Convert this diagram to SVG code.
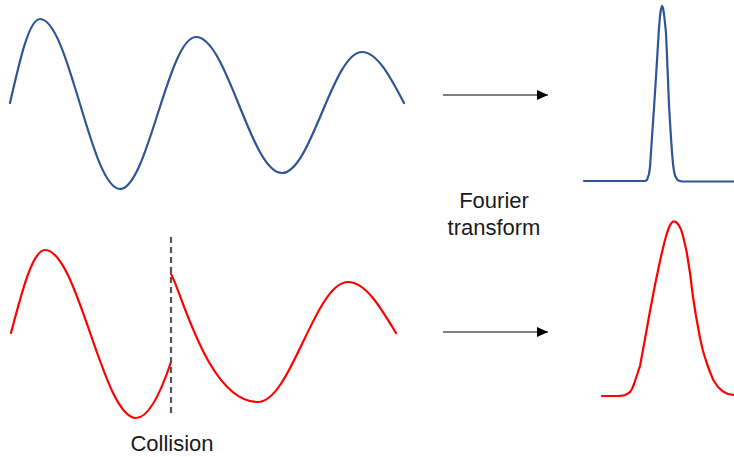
<svg xmlns="http://www.w3.org/2000/svg" width="734" height="457" viewBox="0 0 734 457">
<style>
.blue{fill:none;stroke:#2f5597;stroke-width:2.2;stroke-linejoin:round;stroke-linecap:round}
.red{fill:none;stroke:#ff0000;stroke-width:2.2;stroke-linejoin:round;stroke-linecap:round}
.arrow{fill:none;stroke:#555;stroke-width:1.4}
.lbl{font-family:"Liberation Sans",Arial,sans-serif;font-size:22px;fill:#1a1a1a;text-anchor:middle}
</style>
<defs>
<marker id="ah" markerWidth="11" markerHeight="10" refX="11" refY="5" orient="auto" markerUnits="userSpaceOnUse">
<path d="M0,0 L11,5 L0,10 Z" fill="#000"/>
</marker>
</defs>
<rect width="734" height="457" fill="#fff"/>
<g id="blue-wave">
<path class="blue" d="M10,103 C19.8,60 29.1,19 40,19 C69.1,19 90.9,189 120,189 C147.7,189 168.3,37 196,37 C227.3,37 250.7,173 282,173 C311.1,173 332.9,52 362,52 C377.2,52 390.3,76.9 404,103"/>
</g>
<g id="red-wave">
<path class="red" d="M11,333 C22.1,290.5 32.7,250 45,250 C78.1,250 102.9,418 136,418 C148,418 160,395 171,362"/>
<path class="red" d="M171,274 C181,290 208,402 258,402 C290.8,402 315.2,282 348,282 C365.4,282 380.4,306.9 396,333"/>
</g>
<g id="collision-line">
<line x1="171" y1="237" x2="171" y2="417" stroke="#555" stroke-width="2.2" stroke-dasharray="6,4"/>
</g>
<g id="collision-label">
<text class="lbl" x="172" y="451">Collision</text>
</g>
<g id="blue-peak">
<polyline class="blue" points="584,181 645,181 647,180 649,174 650,167 652,137 654,108 656,77 658,44 659,28 660,16 661,9 662,6 663,8 664,14 665,23 666,33 667,56 668,80 669,105 670,122 671,138 672,152 673,164 674,171 675,175.5 677,179.3 679,180.8 682,181.5 734,181.5"/>
</g>
<g id="red-peak">
<polyline class="red" points="602,396 618,396 622,395.7 625,395 628,393.5 630,392 632,389 634,384 636,378 638,372 640,366 645,339 650,311 655,285 660,261 663,248 665,240 667,233 669,227.5 671,223.5 673,221.5 675,221.5 677,223 679,225.5 681,229.5 683,236 686.7,252 690,273 693,297 696,316 700,338 703,351 706.7,363 710,372 713.3,380 718,387 723,391.5 728,394 734,395"/>
</g>
<g id="fourier-label">
<text class="lbl" x="494" y="208">Fourier</text>
<text class="lbl" x="494" y="235">transform</text>
</g>
<g id="connectors">
<line class="arrow" x1="443" y1="95" x2="548" y2="95" marker-end="url(#ah)"/>
<line class="arrow" x1="443" y1="332" x2="548" y2="332" marker-end="url(#ah)"/>
</g>
</svg>
